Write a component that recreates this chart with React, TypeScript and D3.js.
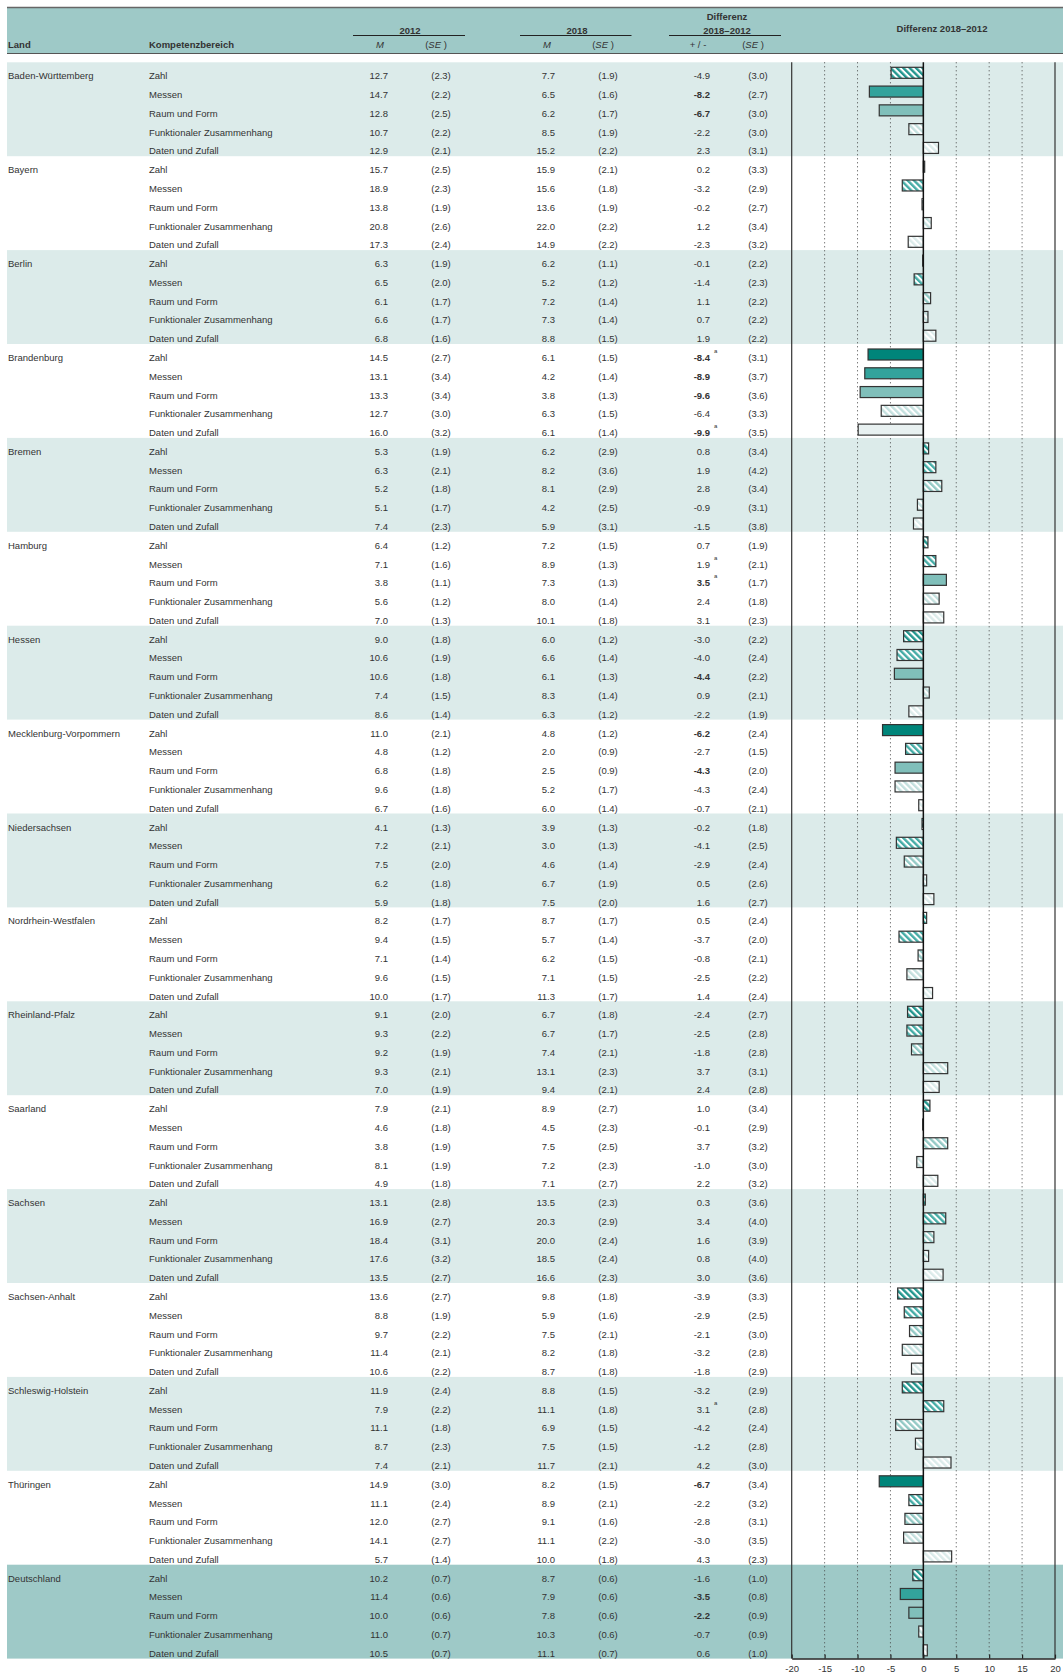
import React, { useEffect, useRef } from "react";
import * as d3 from "d3";

const laender = [
  "Baden-Württemberg", "Bayern", "Berlin", "Brandenburg", "Bremen", "Hamburg",
  "Hessen", "Mecklenburg-Vorpommern", "Niedersachsen", "Nordrhein-Westfalen",
  "Rheinland-Pfalz", "Saarland", "Sachsen", "Sachsen-Anhalt",
  "Schleswig-Holstein", "Thüringen", "Deutschland",
];

const bereiche = [
  "Zahl", "Messen", "Raum und Form", "Funktionaler Zusammenhang", "Daten und Zufall",
];

// one row of five values per Land, in the order of bereiche
const m2012 = [
  [12.7, 14.7, 12.8, 10.7, 12.9], [15.7, 18.9, 13.8, 20.8, 17.3],
  [6.3, 6.5, 6.1, 6.6, 6.8], [14.5, 13.1, 13.3, 12.7, 16.0],
  [5.3, 6.3, 5.2, 5.1, 7.4], [6.4, 7.1, 3.8, 5.6, 7.0],
  [9.0, 10.6, 10.6, 7.4, 8.6], [11.0, 4.8, 6.8, 9.6, 6.7],
  [4.1, 7.2, 7.5, 6.2, 5.9], [8.2, 9.4, 7.1, 9.6, 10.0],
  [9.1, 9.3, 9.2, 9.3, 7.0], [7.9, 4.6, 3.8, 8.1, 4.9],
  [13.1, 16.9, 18.4, 17.6, 13.5], [13.6, 8.8, 9.7, 11.4, 10.6],
  [11.9, 7.9, 11.1, 8.7, 7.4], [14.9, 11.1, 12.0, 14.1, 5.7],
  [10.2, 11.4, 10.0, 11.0, 10.5],
];
const se2012 = [
  [2.3, 2.2, 2.5, 2.2, 2.1], [2.5, 2.3, 1.9, 2.6, 2.4],
  [1.9, 2.0, 1.7, 1.7, 1.6], [2.7, 3.4, 3.4, 3.0, 3.2],
  [1.9, 2.1, 1.8, 1.7, 2.3], [1.2, 1.6, 1.1, 1.2, 1.3],
  [1.8, 1.9, 1.8, 1.5, 1.4], [2.1, 1.2, 1.8, 1.8, 1.6],
  [1.3, 2.1, 2.0, 1.8, 1.8], [1.7, 1.5, 1.4, 1.5, 1.7],
  [2.0, 2.2, 1.9, 2.1, 1.9], [2.1, 1.8, 1.9, 1.9, 1.8],
  [2.8, 2.7, 3.1, 3.2, 2.7], [2.7, 1.9, 2.2, 2.1, 2.2],
  [2.4, 2.2, 1.8, 2.3, 2.1], [3.0, 2.4, 2.7, 2.7, 1.4],
  [0.7, 0.6, 0.6, 0.7, 0.7],
];
const m2018 = [
  [7.7, 6.5, 6.2, 8.5, 15.2], [15.9, 15.6, 13.6, 22.0, 14.9],
  [6.2, 5.2, 7.2, 7.3, 8.8], [6.1, 4.2, 3.8, 6.3, 6.1],
  [6.2, 8.2, 8.1, 4.2, 5.9], [7.2, 8.9, 7.3, 8.0, 10.1],
  [6.0, 6.6, 6.1, 8.3, 6.3], [4.8, 2.0, 2.5, 5.2, 6.0],
  [3.9, 3.0, 4.6, 6.7, 7.5], [8.7, 5.7, 6.2, 7.1, 11.3],
  [6.7, 6.7, 7.4, 13.1, 9.4], [8.9, 4.5, 7.5, 7.2, 7.1],
  [13.5, 20.3, 20.0, 18.5, 16.6], [9.8, 5.9, 7.5, 8.2, 8.7],
  [8.8, 11.1, 6.9, 7.5, 11.7], [8.2, 8.9, 9.1, 11.1, 10.0],
  [8.7, 7.9, 7.8, 10.3, 11.1],
];
const se2018 = [
  [1.9, 1.6, 1.7, 1.9, 2.2], [2.1, 1.8, 1.9, 2.2, 2.2],
  [1.1, 1.2, 1.4, 1.4, 1.5], [1.5, 1.4, 1.3, 1.5, 1.4],
  [2.9, 3.6, 2.9, 2.5, 3.1], [1.5, 1.3, 1.3, 1.4, 1.8],
  [1.2, 1.4, 1.3, 1.4, 1.2], [1.2, 0.9, 0.9, 1.7, 1.4],
  [1.3, 1.3, 1.4, 1.9, 2.0], [1.7, 1.4, 1.5, 1.5, 1.7],
  [1.8, 1.7, 2.1, 2.3, 2.1], [2.7, 2.3, 2.5, 2.3, 2.7],
  [2.3, 2.9, 2.4, 2.4, 2.3], [1.8, 1.6, 2.1, 1.8, 1.8],
  [1.5, 1.8, 1.5, 1.5, 2.1], [1.5, 2.1, 1.6, 2.2, 1.8],
  [0.6, 0.6, 0.6, 0.6, 0.7],
];
const diff = [
  [-4.9, -8.2, -6.7, -2.2, 2.3], [0.2, -3.2, -0.2, 1.2, -2.3],
  [-0.1, -1.4, 1.1, 0.7, 1.9], [-8.4, -8.9, -9.6, -6.4, -9.9],
  [0.8, 1.9, 2.8, -0.9, -1.5], [0.7, 1.9, 3.5, 2.4, 3.1],
  [-3.0, -4.0, -4.4, 0.9, -2.2], [-6.2, -2.7, -4.3, -4.3, -0.7],
  [-0.2, -4.1, -2.9, 0.5, 1.6], [0.5, -3.7, -0.8, -2.5, 1.4],
  [-2.4, -2.5, -1.8, 3.7, 2.4], [1.0, -0.1, 3.7, -1.0, 2.2],
  [0.3, 3.4, 1.6, 0.8, 3.0], [-3.9, -2.9, -2.1, -3.2, -1.8],
  [-3.2, 3.1, -4.2, -1.2, 4.2], [-6.7, -2.2, -2.8, -3.0, 4.3],
  [-1.6, -3.5, -2.2, -0.7, 0.6],
];
const seDiff = [
  [3.0, 2.7, 3.0, 3.0, 3.1], [3.3, 2.9, 2.7, 3.4, 3.2],
  [2.2, 2.3, 2.2, 2.2, 2.2], [3.1, 3.7, 3.6, 3.3, 3.5],
  [3.4, 4.2, 3.4, 3.1, 3.8], [1.9, 2.1, 1.7, 1.8, 2.3],
  [2.2, 2.4, 2.2, 2.1, 1.9], [2.4, 1.5, 2.0, 2.4, 2.1],
  [1.8, 2.5, 2.4, 2.6, 2.7], [2.4, 2.0, 2.1, 2.2, 2.4],
  [2.7, 2.8, 2.8, 3.1, 2.8], [3.4, 2.9, 3.2, 3.0, 3.2],
  [3.6, 4.0, 3.9, 4.0, 3.6], [3.3, 2.5, 3.0, 2.8, 2.9],
  [2.9, 2.8, 2.4, 2.8, 3.0], [3.4, 3.2, 3.1, 3.5, 2.3],
  [1.0, 0.8, 0.9, 0.9, 1.0],
];
// 1 = significant difference (bold value, solid bar)
const signifikant = [
  [0, 1, 1, 0, 0], [0, 0, 0, 0, 0], [0, 0, 0, 0, 0], [1, 1, 1, 0, 1],
  [0, 0, 0, 0, 0], [0, 0, 1, 0, 0], [0, 0, 1, 0, 0], [1, 0, 1, 0, 0],
  [0, 0, 0, 0, 0], [0, 0, 0, 0, 0], [0, 0, 0, 0, 0], [0, 0, 0, 0, 0],
  [0, 0, 0, 0, 0], [0, 0, 0, 0, 0], [0, 0, 0, 0, 0], [1, 0, 0, 0, 0],
  [0, 1, 1, 0, 0],
];
// footnote "a"
const fussnote = [
  [0, 0, 0, 0, 0], [0, 0, 0, 0, 0], [0, 0, 0, 0, 0], [1, 0, 0, 0, 1],
  [0, 0, 0, 0, 0], [0, 1, 1, 0, 0], [0, 0, 0, 0, 0], [0, 0, 0, 0, 0],
  [0, 0, 0, 0, 0], [0, 0, 0, 0, 0], [0, 0, 0, 0, 0], [0, 0, 0, 0, 0],
  [0, 0, 0, 0, 0], [0, 0, 0, 0, 0], [0, 1, 0, 0, 0], [0, 0, 0, 0, 0],
  [0, 0, 0, 0, 0],
];
const axisTicks = [-20, -15, -10, -5, 0, 5, 10, 15, 20];

const solidColors = ["#00857a", "#33a39c", "#80bfba", "#b3d9d6", "#e8f1f1"];
const hatchColors = ["#22968e", "#45aca6", "#93c9c5", "#c4e0de", "#dbebea"];

const W = 1063;
const H = 1678;
const FONT = "'Liberation Sans', Arial, sans-serif";
const FS = 9.5;
const TXT = "#333";

const App: React.FC = () => {
  const axisRef = useRef<SVGGElement | null>(null);

  const nRows = laender.length * bereiche.length;
  const rowTop = 62.3;
  const rowBottom = 1658.6;

  const x = d3.scaleLinear().domain([-20, 20]).range([791.7, 1055]);
  const y = d3
    .scaleBand<number>()
    .domain(d3.range(nRows))
    .range([rowTop, rowBottom])
    .padding(0);
  const rh = y.bandwidth();

  useEffect(() => {
    if (!axisRef.current) return;
    const g = d3.select(axisRef.current);
    g.selectAll("*").remove();
    g.call(
      d3
        .axisBottom(x)
        .tickValues(axisTicks)
        .tickFormat((d) => String(d))
        .tickSizeInner(-4)
        .tickSizeOuter(0)
        .tickPadding(7)
    );
    g.select(".domain").attr("stroke", "#222").attr("stroke-width", 1.5);
    g.selectAll(".tick line").attr("stroke", "#222").attr("stroke-width", 1.2);
    g.selectAll(".tick text")
      .attr("fill", TXT)
      .attr("font-size", FS)
      .attr("font-family", FONT);
  }, []);

  const rows: React.ReactNode[] = [];
  laender.forEach((land, li) => {
    bereiche.forEach((ber, bi) => {
      const i = li * 5 + bi;
      const top = y(i)!;
      const base = top + 17;
      const d = diff[li][bi];
      const sig = signifikant[li][bi] === 1;
      const barY = top + 5;
      rows.push(
        <g key={i} fontFamily={FONT} fontSize={FS} fill={TXT}>
          {bi === 0 && (
            <text x={8} y={base}>
              {land}
            </text>
          )}
          <text x={149} y={base}>
            {ber}
          </text>
          <text x={388} y={base} textAnchor="end">
            {m2012[li][bi].toFixed(1)}
          </text>
          <text x={441} y={base} textAnchor="middle">
            ({se2012[li][bi].toFixed(1)})
          </text>
          <text x={555} y={base} textAnchor="end">
            {m2018[li][bi].toFixed(1)}
          </text>
          <text x={608} y={base} textAnchor="middle">
            ({se2018[li][bi].toFixed(1)})
          </text>
          <text x={710} y={base} textAnchor="end" fontWeight={sig ? "bold" : "normal"}>
            {d.toFixed(1)}
          </text>
          {fussnote[li][bi] === 1 && (
            <text x={714} y={base - 8} fontSize={6}>
              a
            </text>
          )}
          <text x={758} y={base} textAnchor="middle">
            ({seDiff[li][bi].toFixed(1)})
          </text>
          <rect
            x={Math.min(x(0), x(d))}
            y={barY}
            width={Math.abs(x(d) - x(0))}
            height={11}
            fill={sig ? solidColors[bi] : `url(#hatch-${bi})`}
            stroke="#333"
            strokeWidth={1.2}
          />
        </g>
      );
    });
  });

  const bands = laender.map((land, li) => {
    const last = li === laender.length - 1;
    if (li % 2 === 1 && !last) return null;
    const top = y(li * 5)!;
    return (
      <rect
        key={land}
        x={7}
        y={top}
        width={W - 7}
        height={rh * 5}
        fill={last ? "#9ec9c7" : "#dcebea"}
      />
    );
  });

  const underline = (x1: number, x2: number) => (
    <line x1={x1} x2={x2} y1={35.5} y2={35.5} stroke="#222" strokeWidth={1.2} />
  );

  return (
    <div style={{ position: "absolute", left: 0, top: 0 }}>
      <svg width={W} height={H} style={{ display: "block", background: "#fff" }}>
        <defs>
          {hatchColors.map((c, k) => (
            <pattern
              key={k}
              id={`hatch-${k}`}
              width={4.5}
              height={4.5}
              patternUnits="userSpaceOnUse"
              patternTransform="rotate(-45)"
            >
              <rect width={4.5} height={4.5} fill="#fff" />
              <line x1={1.2} y1={0} x2={1.2} y2={4.5} stroke={c} strokeWidth={2.4} />
            </pattern>
          ))}
        </defs>

        {/* header */}
        <rect x={7} y={7.5} width={W - 7} height={46} fill="#9ec9c7" />
        <line x1={7} x2={W} y1={7.5} y2={7.5} stroke="#666" strokeWidth={1.5} />
        <line x1={7} x2={W} y1={53.5} y2={53.5} stroke="#555" strokeWidth={1} />
        <g fontFamily={FONT} fontSize={FS} fill={TXT}>
          <text x={8} y={48} fontWeight="bold">Land</text>
          <text x={149} y={48} fontWeight="bold">Kompetenzbereich</text>
          <text x={410} y={33.5} textAnchor="middle" fontWeight="bold">2012</text>
          <text x={577} y={33.5} textAnchor="middle" fontWeight="bold">2018</text>
          <text x={727} y={20.3} textAnchor="middle" fontWeight="bold">Differenz</text>
          <text x={727} y={33.5} textAnchor="middle" fontWeight="bold">2018–2012</text>
          <text x={942} y={32} textAnchor="middle" fontWeight="bold">Differenz 2018–2012</text>
          <text x={380} y={48} textAnchor="middle" fontStyle="italic">M</text>
          <text x={436} y={48} textAnchor="middle">
            (<tspan fontStyle="italic">SE</tspan> )
          </text>
          <text x={547} y={48} textAnchor="middle" fontStyle="italic">M</text>
          <text x={603} y={48} textAnchor="middle">
            (<tspan fontStyle="italic">SE</tspan> )
          </text>
          <text x={698} y={48} textAnchor="middle">+ / -</text>
          <text x={753} y={48} textAnchor="middle">
            (<tspan fontStyle="italic">SE</tspan> )
          </text>
        </g>
        {underline(353, 465)}
        {underline(520, 631.5)}
        {underline(669, 781)}

        {bands}

        {/* grid */}
        {axisTicks
          .filter((t) => Math.abs(t) !== 20 && t !== 0)
          .map((t) => (
            <line
              key={t}
              x1={x(t)}
              x2={x(t)}
              y1={rowTop}
              y2={rowBottom}
              stroke="#444"
              strokeWidth={1}
              strokeDasharray="1,3"
            />
          ))}
        <line x1={x(-20)} x2={x(-20)} y1={rowTop} y2={rowBottom} stroke="#333" strokeWidth={1.2} />
        <line x1={x(20)} x2={x(20)} y1={rowTop} y2={rowBottom} stroke="#333" strokeWidth={1.2} />

        {rows}

        <line x1={x(0)} x2={x(0)} y1={rowTop} y2={rowBottom} stroke="#111" strokeWidth={1.5} />
        <g ref={axisRef} transform={`translate(0,${rowBottom})`} />
      </svg>
    </div>
  );
};

export default App;
